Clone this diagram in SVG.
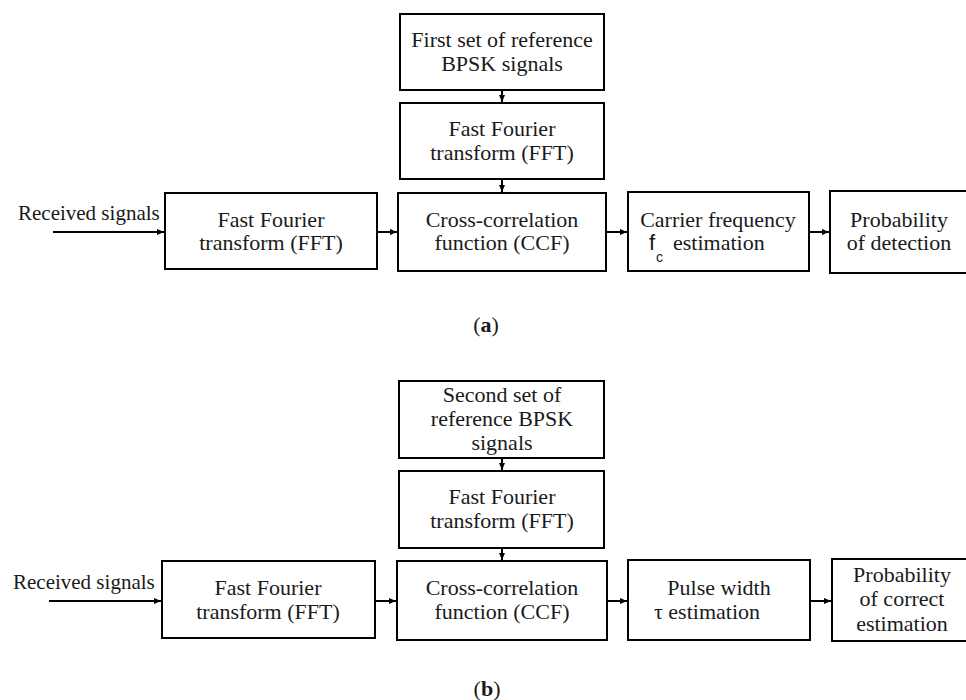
<svg xmlns="http://www.w3.org/2000/svg" width="966" height="700" viewBox="0 0 966 700">
<defs>
<marker id="ah" markerWidth="7" markerHeight="6" refX="7" refY="3" orient="auto" markerUnits="userSpaceOnUse">
<path d="M0,0 L7,3 L0,6 Z" fill="#000"/>
</marker>
<style>
.box{fill:#fff;stroke:#000;stroke-width:2}
.lbl{font-family:'Liberation Serif','Times New Roman',serif;font-size:22px;fill:#1a1a1a;text-anchor:middle}
.lbll{font-family:'Liberation Serif','Times New Roman',serif;font-size:22px;fill:#1a1a1a}
.inp{font-family:'Liberation Serif','Times New Roman',serif;font-size:21px;fill:#1a1a1a}
.conn{stroke:#000;stroke-width:2;fill:none;marker-end:url(#ah)}
.sans{font-family:'Liberation Sans',Arial,sans-serif;fill:#1a1a1a}
</style>
</defs>
<rect width="966" height="700" fill="#fff"/>

<!-- Panel (a) -->
<g id="a-ref">
<rect class="box" x="400" y="14" width="204" height="76"/>
<text class="lbl" x="502" y="47">First set of reference</text>
<text class="lbl" x="502" y="71">BPSK signals</text>
</g>
<g id="a-fft-ref">
<rect class="box" x="400" y="103" width="204" height="76"/>
<text class="lbl" x="502" y="136">Fast Fourier</text>
<text class="lbl" x="502" y="160">transform (FFT)</text>
</g>
<g id="a-input">
<text class="inp" x="18" y="220">Received signals</text>
</g>
<g id="a-fft">
<rect class="box" x="165" y="193" width="212" height="76"/>
<text class="lbl" x="271" y="227">Fast Fourier</text>
<text class="lbl" x="271" y="250">transform (FFT)</text>
</g>
<g id="a-ccf">
<rect class="box" x="398" y="193" width="208" height="78"/>
<text class="lbl" x="502" y="227">Cross-correlation</text>
<text class="lbl" x="502" y="250">function (CCF)</text>
</g>
<g id="a-carrier">
<rect class="box" x="628" y="192" width="181" height="79"/>
<text class="lbl" x="718" y="227">Carrier frequency</text>
<text class="sans" x="649" y="250" font-size="22">f</text>
<text class="sans" x="656" y="262" font-size="14">c</text>
<text class="lbll" x="673" y="250">estimation</text>
</g>
<g id="a-prob">
<rect class="box" x="830" y="191" width="140" height="82"/>
<text class="lbl" x="899" y="227">Probability</text>
<text class="lbl" x="899" y="250">of detection</text>
</g>
<g id="a-label">
<text class="lbl" x="486" y="332">(<tspan font-weight="bold">a</tspan>)</text>
</g>

<!-- Panel (b) -->
<g id="b-ref">
<rect class="box" x="399" y="381" width="205" height="77"/>
<text class="lbl" x="502" y="402">Second set of</text>
<text class="lbl" x="502" y="426">reference BPSK</text>
<text class="lbl" x="502" y="450">signals</text>
</g>
<g id="b-fft-ref">
<rect class="box" x="399" y="471" width="205" height="77"/>
<text class="lbl" x="502" y="504">Fast Fourier</text>
<text class="lbl" x="502" y="528">transform (FFT)</text>
</g>
<g id="b-input">
<text class="inp" x="13" y="589">Received signals</text>
</g>
<g id="b-fft">
<rect class="box" x="162" y="561" width="213" height="77"/>
<text class="lbl" x="268" y="595">Fast Fourier</text>
<text class="lbl" x="268" y="619">transform (FFT)</text>
</g>
<g id="b-ccf">
<rect class="box" x="397" y="561" width="210" height="79"/>
<text class="lbl" x="502" y="595">Cross-correlation</text>
<text class="lbl" x="502" y="619">function (CCF)</text>
</g>
<g id="b-pulse">
<rect class="box" x="628" y="560" width="182" height="80"/>
<text class="lbl" x="719" y="595">Pulse width</text>
<text class="lbll" x="654" y="619">τ estimation</text>
</g>
<g id="b-prob">
<rect class="box" x="832" y="559" width="140" height="82"/>
<text class="lbl" x="902" y="582">Probability</text>
<text class="lbl" x="902" y="606">of correct</text>
<text class="lbl" x="902" y="631">estimation</text>
</g>
<g id="b-label">
<text class="lbl" x="487" y="696">(<tspan font-weight="bold">b</tspan>)</text>
</g>

<g id="connectors">
<line class="conn" x1="502" y1="90" x2="502" y2="102"/>
<line class="conn" x1="502" y1="179" x2="502" y2="192"/>
<line class="conn" x1="53" y1="232" x2="164" y2="232"/>
<line class="conn" x1="377" y1="232" x2="397" y2="232"/>
<line class="conn" x1="606" y1="232" x2="627" y2="232"/>
<line class="conn" x1="809" y1="232" x2="829" y2="232"/>
<line class="conn" x1="502" y1="458" x2="502" y2="470"/>
<line class="conn" x1="502" y1="548" x2="502" y2="560"/>
<line class="conn" x1="49" y1="601" x2="161" y2="601"/>
<line class="conn" x1="375" y1="601" x2="396" y2="601"/>
<line class="conn" x1="607" y1="601" x2="627" y2="601"/>
<line class="conn" x1="810" y1="601" x2="831" y2="601"/>
</g>
</svg>
